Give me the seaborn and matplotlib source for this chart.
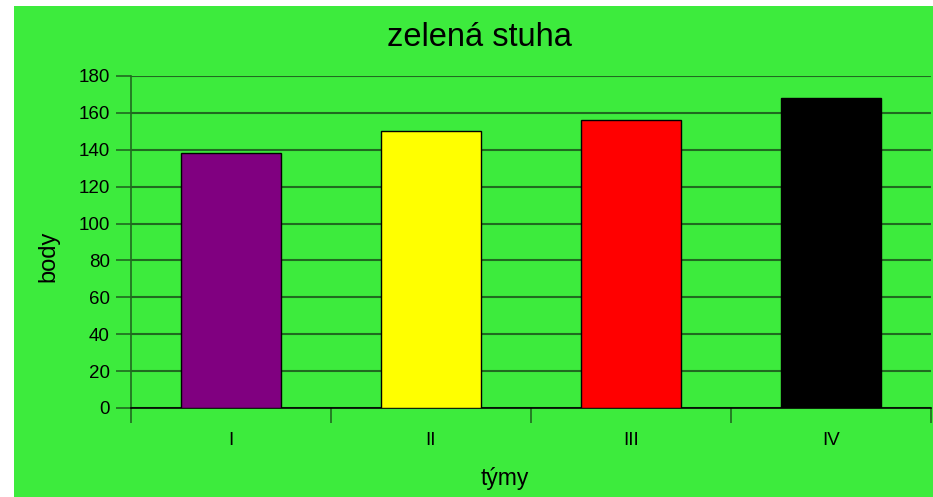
import matplotlib
matplotlib.use("Agg")
import matplotlib.pyplot as plt
from matplotlib.patches import Rectangle
import seaborn as sns
import pandas as pd
import numpy as np

# data
teams = ["I", "II", "III", "IV"]
points = [138, 150, 156, 168]
bar_colors = ["#800080", "#ffff00", "#ff0000", "#000000"]

bg_green = "#3deb3d"
grid_col = "#206a20"

sns.set_style("white")
plt.rcParams['font.family'] = ['Liberation Sans', 'DejaVu Sans']
plt.rcParams['text.color'] = 'black'

df = pd.DataFrame({"tym": teams, "body": points})

fig = plt.figure(figsize=(9.33, 4.97), dpi=100)
fig.patch.set_facecolor("white")
fig.patches.append(Rectangle((14 / 933, 0), 1, 1 - 6 / 497, transform=fig.transFigure,
                             facecolor=bg_green, edgecolor="none", zorder=-10))

ax = fig.add_axes([130.7 / 933, 1 - 408 / 497, (931 - 130.7) / 933, (408 - 76) / 497])
ax.set_facecolor(bg_green)

sns.barplot(data=df, x="tym", y="body", hue="tym", palette=bar_colors, legend=False,
            saturation=1, width=0.5, edgecolor="black", linewidth=1, ax=ax, zorder=3)

ax.set_ylim(0, 180)
ax.set_xlim(-0.5, 3.5)
ax.set_yticks(np.arange(0, 181, 20))
ax.yaxis.grid(True, color=grid_col, linewidth=1.5, zorder=0)
ax.set_axisbelow(True)

# ticks between categories, labels centred without ticks
ax.set_xticks(np.arange(len(teams)))
ax.set_xticklabels(teams)
ax.set_xticks(np.arange(-0.5, len(teams)), minor=True)
ax.tick_params(axis="x", which="major", bottom=True, length=0, pad=17, labelsize=13.5,
               labelcolor="black")
ax.tick_params(axis="x", which="minor", bottom=True, length=11, width=1.2, color=grid_col,
               direction="out")
ax.tick_params(axis="y", left=True, length=11, width=1.2, color=grid_col, direction="out",
               pad=4, labelsize=13.5, labelcolor="black")

for s in ["top", "right"]:
    ax.spines[s].set_visible(False)
ax.spines["left"].set_color(grid_col)
ax.spines["left"].set_linewidth(1.2)
ax.spines["bottom"].set_color("black")
ax.spines["bottom"].set_linewidth(1.2)

ax.set_xlabel("")
ax.set_ylabel("")
fig.text(479 / 933, 1 - 38 / 497, "zelená stuha", ha="center", va="center", fontsize=23.5)
fig.text(505 / 933, 1 - 478 / 497, "týmy", ha="center", va="center", fontsize=16.5)
fig.text(48 / 933, 1 - 256 / 497, "body", ha="center", va="center", rotation=90, fontsize=17)

fig.savefig("out.png", dpi=100)
